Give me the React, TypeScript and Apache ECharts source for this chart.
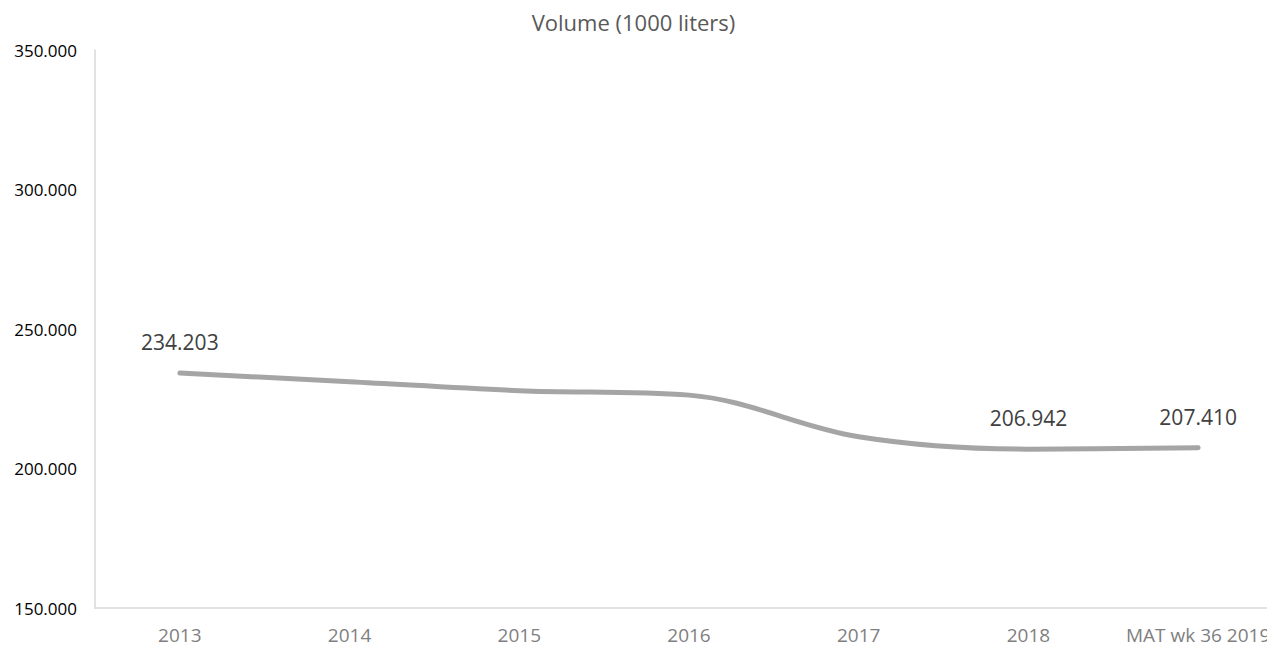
import React, { useEffect, useRef } from "react";
import * as echarts from "echarts";

const categories = ["2013", "2014", "2015", "2016", "2017", "2018", "MAT wk 36 2019"];
const volume = [234.203, 231.1, 227.9, 226.3, 211.4, 206.942, 207.41];
const labelled = [true, false, false, false, false, true, true];
const yTicks = { min: 150, max: 350, interval: 50 };
const title = "Volume (1000 liters)";

const fmt = (v: number) => v.toFixed(3);

export default function App() {
  const ref = useRef<HTMLDivElement>(null);
  useEffect(() => {
    if (!ref.current) return;
    const chart = echarts.init(ref.current, undefined, { renderer: "svg" });
    chart.setOption({
      animation: false,
      backgroundColor: "#ffffff",
      textStyle: { fontFamily: "Open Sans" },
      title: {
        text: title,
        left: "center",
        top: 6,
        textStyle: { fontFamily: "Open Sans", fontSize: 22, fontWeight: "normal", color: "#595959" },
      },
      grid: { left: 95, top: 50, width: 1188, height: 558, outerBoundsMode: "none", containLabel: false },
      xAxis: {
        type: "category",
        data: categories,
        boundaryGap: true,
        axisLine: { show: true, lineStyle: { color: "#d9d9d9", width: 1.5 } },
        axisTick: { show: false },
        axisLabel: { color: "#7f7f7f", fontSize: 19, fontFamily: "Open Sans", margin: 17, interval: 0 },
        splitLine: { show: false },
      },
      yAxis: {
        type: "value",
        min: yTicks.min,
        max: yTicks.max,
        interval: yTicks.interval,
        axisLine: { show: true, lineStyle: { color: "#d9d9d9", width: 1.5 } },
        axisTick: { show: false },
        splitLine: { show: false },
        axisLabel: {
          color: "#000000",
          fontSize: 17,
          fontFamily: "Open Sans",
          margin: 18,
          formatter: (v: number) => fmt(v),
        },
      },
      series: [
        {
          type: "line",
          data: volume.map((v, i) => ({
            value: v,
            label: { show: labelled[i] },
          })),
          smooth: 0.35,
          symbol: "circle",
          symbolSize: 0.5,
          showSymbol: true,
          itemStyle: { color: "rgba(165,165,165,0)", borderWidth: 0 },
          lineStyle: { color: "#a5a5a5", width: 5, cap: "round", join: "round" },
          label: {
            show: true,
            position: "top",
            distance: 20,
            color: "#404040",
            fontSize: 21,
            fontFamily: "Open Sans",
            formatter: (p: any) => fmt(p.value),
          },
          labelLayout: { hideOverlap: false },
        },
      ],
    });
    return () => chart.dispose();
  }, []);
  return (
    <div
      ref={ref}
      style={{ position: "fixed", left: 0, top: 0, width: 1267, height: 649, background: "#fff" }}
    />
  );
}
